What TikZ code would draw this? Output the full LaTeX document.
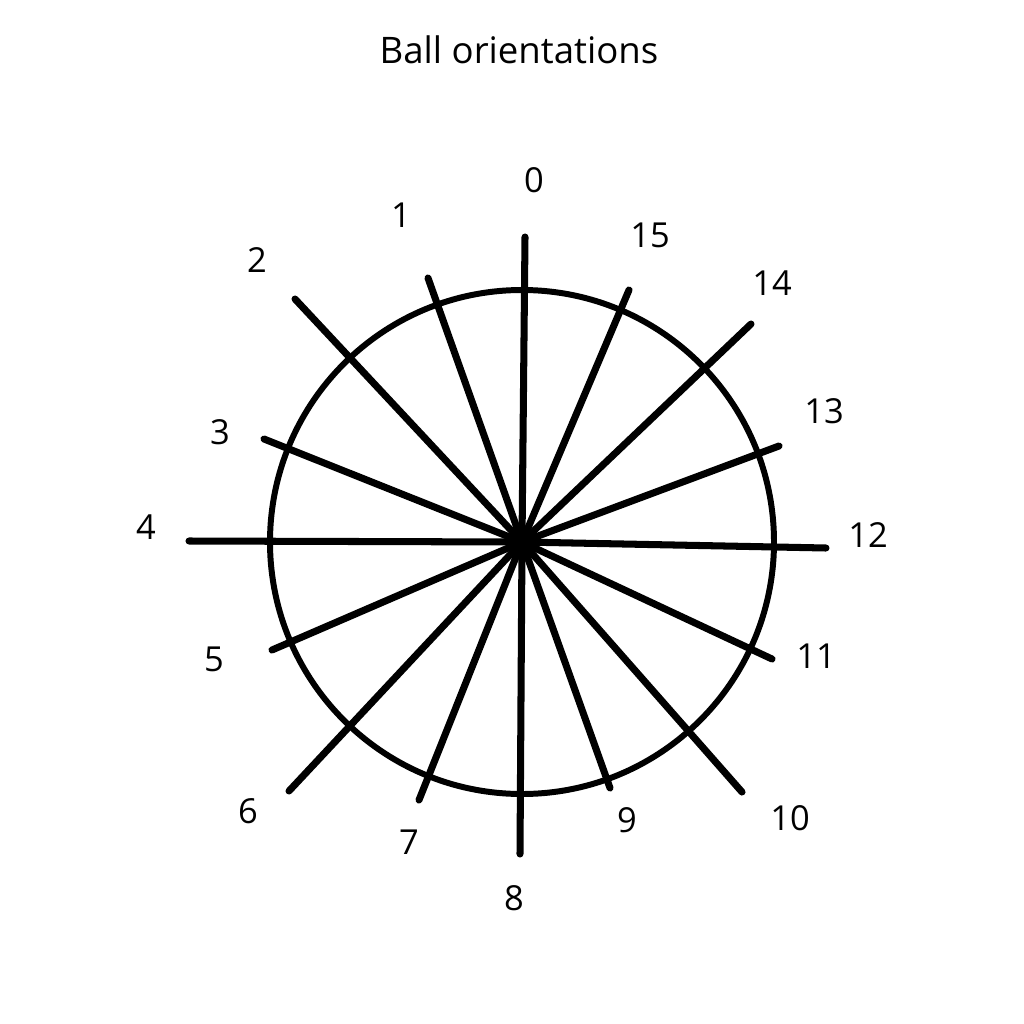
\documentclass[tikz,border=0pt]{standalone}
\usepackage{fontspec}
\setmainfont{Open Sans}
\usetikzlibrary{arrows.meta}

\begin{document}
\begin{tikzpicture}[
  x=0.01cm,y=-0.01cm,
  spoke/.style={line width=2pt,line cap=round},
  rim/.style={draw,line width=1.7pt},
  every node/.append style={font=\fontsize{9.8}{12}\selectfont}
]
  \useasboundingbox (0,0) rectangle (1024,1024);
  \node[font=\fontsize{10.4}{12}\selectfont] (title) at (519,50) {Ball orientations};

  \coordinate (hub) at (522,542);
  \draw[rim] (hub) circle (252);

  % spoke ends and labels
  \foreach \n/\ex/\ey/\lx/\ly in {
      0/525/237/534/180, 1/428/278/401/215, 2/295/299/257/260,
      3/264/439/220/432, 4/189/541/146/527, 5/272/650/214/659,
      6/289/791/248/811, 7/419/800/409/842, 8/520/854/514/898,
      9/610/788/627/820, 10/742/792/790/818, 11/772/659/816/656,
      12/826/548/868/535, 13/779/446/824/411, 14/751/324/772/283,
      15/629/290/650/235}{
    \coordinate (end\n) at (\ex,\ey);
    \node (lab\n) at (\lx,\ly) {\n};
    \draw[spoke] (hub) -- (end\n);
  }
  \fill (hub) circle (11);
\end{tikzpicture}
\end{document}
